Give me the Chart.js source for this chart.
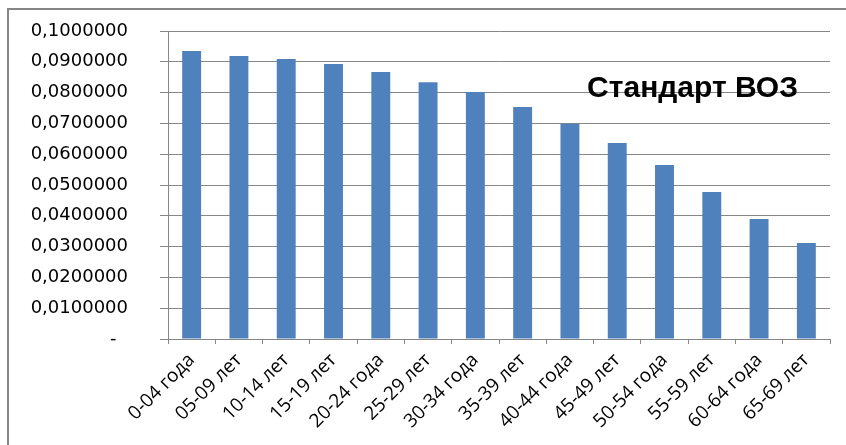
<!DOCTYPE html>
<html>
<head>
<meta charset="utf-8">
<script src="https://cdn.jsdelivr.net/npm/chart.js@4/dist/chart.umd.min.js"></script>
<style>
    html, body { margin: 0; padding: 0; background: #fff; }
    #wrap { position: relative; width: 846px; height: 445px; }
    #frame {
        position: absolute; left: 7px; top: 8px; right: 0; bottom: 0;
        border-top: 2px solid #868686; border-left: 2px solid #868686;
        pointer-events: none;
    }
</style>
</head>
<body>
<div id="wrap">
    <canvas id="chart" width="846" height="445"></canvas>
    <div id="frame"></div>
</div>
<script>
// группы возраста
const categories = ["0-04 года", "05-09 лет", "10-14 лет", "15-19 лет", "20-24 года", "25-29 лет", "30-34 года",
    "35-39 лет", "40-44 года", "45-49 лет", "50-54 года", "55-59 лет", "60-64 года", "65-69 лет"];
// доли по стандарту ВОЗ
const values = [0.0935, 0.0919, 0.0909, 0.0893, 0.0867, 0.0834, 0.0802,
    0.0753, 0.0699, 0.0636, 0.0565, 0.0477, 0.0390, 0.0312];
const yMin = 0;
const yMax = 0.1;
const yStep = 0.01;
const chartTitle = "Стандарт ВОЗ";

const gridColor = "#868686";

// подпись внутри области графика
const titlePlugin = {
    id: "insideTitle",
    afterDatasetsDraw(chart) {
        const ctx = chart.ctx;
        ctx.save();
        ctx.font = "bold 30px 'Liberation Sans', Arial, sans-serif";
        ctx.fillStyle = "#000";
        ctx.textAlign = "right";
        ctx.textBaseline = "alphabetic";
        ctx.fillText(chartTitle, 798, 97);
        ctx.restore();
    }
};

const ctx = document.getElementById("chart").getContext("2d");
new Chart(ctx, {
    type: "bar",
    data: {
        labels: categories,
        datasets: [{
            data: values,
            backgroundColor: "#4F81BD",
            borderWidth: 0,
            barPercentage: 0.4,
            categoryPercentage: 1.0
        }]
    },
    options: {
        responsive: false,
        animation: false,
        layout: { padding: { top: 31, right: 16, left: 0, bottom: 0 } },
        plugins: {
            legend: { display: false },
            tooltip: { enabled: false }
        },
        scales: {
            x: {
                grid: { offset: true, drawOnChartArea: false, drawTicks: true, tickLength: 5, color: gridColor },
                border: { color: gridColor, width: 1 },
                ticks: {
                    minRotation: 45, maxRotation: 45, autoSkip: false, padding: 5,
                    color: "#000",
                    font: { family: "'Open Sans', sans-serif", size: 19 }
                },
                afterFit(scale) { scale.height = 106; }
            },
            y: {
                min: yMin, max: yMax,
                grid: { color: gridColor, tickLength: 8 },
                border: { color: gridColor, width: 1 },
                ticks: {
                    stepSize: yStep, padding: 32, color: "#000",
                    font: { family: "'DejaVu Sans', sans-serif", size: 18 },
                    callback: (v) => Math.abs(v) < 1e-9 ? "-  " : v.toFixed(7).replace(".", ",")
                },
                afterFit(scale) {
                    scale.width = 168;
                    scale.paddingTop = 0;
                }
            }
        }
    },
    plugins: [titlePlugin]
});
</script>
</body>
</html>
